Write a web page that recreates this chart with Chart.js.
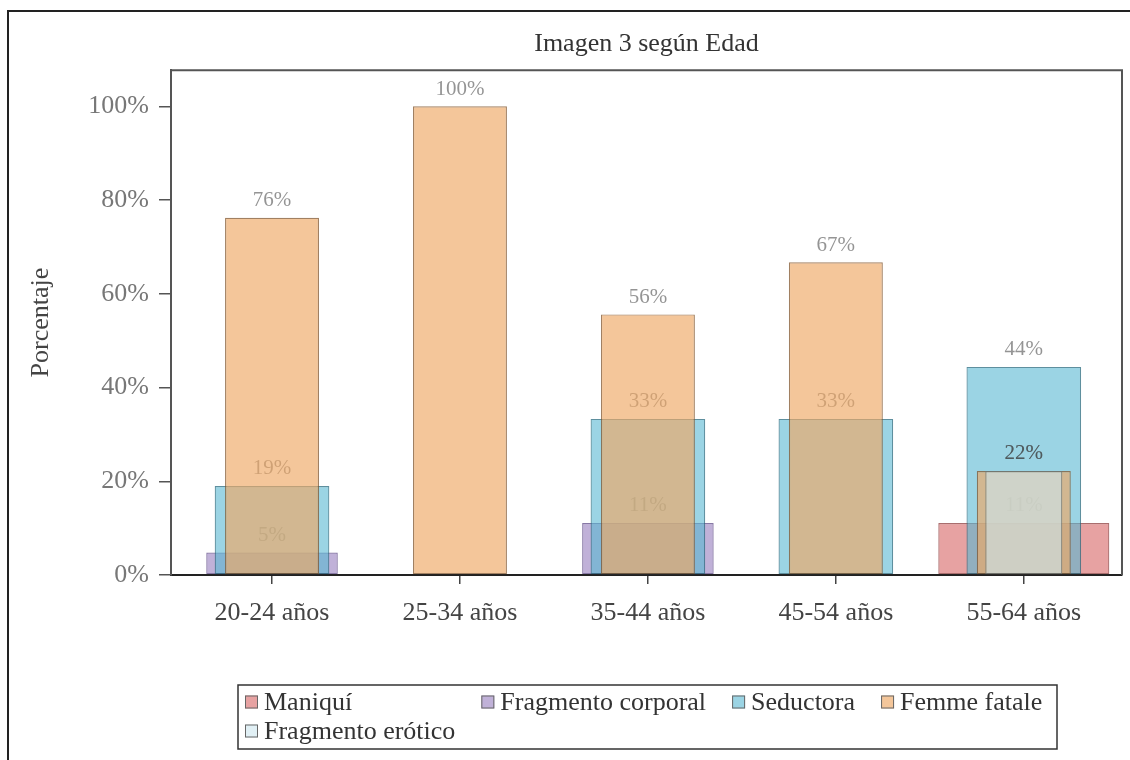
<!DOCTYPE html>
<html>
<head>
<meta charset="utf-8">
<script src="https://cdn.jsdelivr.net/npm/chart.js@4/dist/chart.umd.min.js"></script>
<style>
  html, body { margin: 0; padding: 0; background: #ffffff; }
  #wrap { position: relative; width: 1130px; height: 760px; }
</style>
</head>
<body>
<div id="wrap"><canvas id="c" width="1130" height="760"></canvas></div>
<script>
// ---- data ----
const categories = ['20-24 años', '25-34 años', '35-44 años', '45-54 años', '55-64 años'];
const seriesNames = ['Maniquí', 'Fragmento corporal', 'Seductora', 'Femme fatale', 'Fragmento erótico'];
const maniqui = [0, 0, 0, 0, 11.1];
const fragmentoCorporal = [4.8, 0, 11.1, 0, 0];
const seductora = [19.0, 0, 33.3, 33.3, 44.4];
const femmeFatale = [76.2, 100, 55.6, 66.7, 22.2];
const fragmentoErotico = [0, 0, 0, 0, 22.2];
const yTickValues = [0, 20, 40, 60, 80, 100];
const titleText = 'Imagen 3 según Edad';
const yTitleText = 'Porcentaje';

// ---- styles ----
const FONT = "'Liberation Serif', 'DejaVu Serif', serif";
const fills = ['rgba(215,100,100,0.6)', 'rgba(150,125,190,0.6)', 'rgba(88,184,210,0.6)', 'rgba(238,169,102,0.66)', 'rgba(205,230,238,0.6)'];
const borders = ['rgba(140,60,60,0.75)', 'rgba(95,75,135,0.75)', 'rgba(40,105,125,0.75)', 'rgba(130,85,45,0.75)', 'rgba(110,120,120,0.75)'];
const widths = [0.91, 0.70, 0.61, 0.50, 0.41];
const seriesValues = [maniqui, fragmentoCorporal, seductora, femmeFatale, fragmentoErotico];

const datasets = seriesNames.map((name, i) => ({
  label: name,
  data: seriesValues[i],
  backgroundColor: fills[i],
  borderColor: borders[i],
  borderWidth: 1.2,
  borderSkipped: false,
  grouped: false,
  categoryPercentage: 1,
  barPercentage: widths[i],
  order: seriesNames.length - 1 - i
}));

const labelPlugin = {
  id: 'barLabels',
  afterDatasetDraw(chart, args) {
    const ctx = chart.ctx;
    const ds = chart.data.datasets[args.index];
    ctx.save();
    ctx.font = '21px ' + FONT;
    ctx.fillStyle = 'rgba(60,60,60,0.55)';
    ctx.textAlign = 'center';
    ctx.textBaseline = 'middle';
    args.meta.data.forEach((el, j) => {
      const v = ds.data[j];
      if (v > 0) ctx.fillText(Math.round(v) + '%', el.x, el.y - 17);
    });
    ctx.restore();
  }
};

const framePlugin = {
  id: 'frames',
  afterDraw(chart) {
    const ctx = chart.ctx;
    const a = chart.chartArea;
    ctx.save();
    // plot frame (top and right)
    ctx.strokeStyle = '#555';
    ctx.lineWidth = 2;
    ctx.beginPath();
    ctx.moveTo(a.left, a.top);
    ctx.lineTo(a.right, a.top);
    ctx.lineTo(a.right, a.bottom);
    ctx.stroke();
    // outer frame
    ctx.strokeStyle = '#222';
    ctx.lineWidth = 2;
    ctx.beginPath();
    ctx.moveTo(8, 760);
    ctx.lineTo(8, 11);
    ctx.lineTo(1130, 11);
    ctx.stroke();

    // legend
    const bx = 238, by = 685, bw = 819, bh = 64;
    ctx.strokeStyle = '#333';
    ctx.lineWidth = 1.5;
    ctx.strokeRect(bx, by, bw, bh);
    ctx.font = '26px ' + FONT;
    ctx.textBaseline = 'middle';
    ctx.textAlign = 'left';
    const ds = chart.data.datasets;
    const rows = [[0, 1, 2, 3], [4]];
    const nCols = 4;
    const colW = [];
    for (let c = 0; c < nCols; c++) {
      let m = 0;
      rows.forEach(r => { if (r[c] !== undefined) m = Math.max(m, ctx.measureText(ds[r[c]].label).width); });
      colW.push(m);
    }
    const rowY = [702, 731];
    rows.forEach((r, ri) => {
      let x = 245;
      r.forEach((di, c) => {
        const y = rowY[ri];
        ctx.fillStyle = '#fff';
        ctx.fillRect(x, y - 6.5, 13, 13);
        ctx.fillStyle = ds[di].backgroundColor;
        ctx.fillRect(x, y - 6.5, 13, 13);
        ctx.strokeStyle = '#666';
        ctx.lineWidth = 1;
        ctx.strokeRect(x + 0.5, y - 6, 12, 12);
        ctx.fillStyle = '#333';
        ctx.fillText(ds[di].label, x + 19, y + 1);
        x += 19 + colW[c] + 26;
      });
    });
    ctx.restore();
  }
};

new Chart(document.getElementById('c'), {
  type: 'bar',
  data: { labels: categories, datasets },
  options: {
    responsive: false,
    animation: false,
    devicePixelRatio: 1,
    layout: { padding: { left: 0, right: 8, top: 0, bottom: 125 } },
    plugins: {
      legend: { display: false },
      tooltip: { enabled: false },
      title: {
        display: true,
        text: titleText,
        fullSize: false,
        color: '#333',
        font: { family: FONT, size: 26, weight: 'normal' },
        lineHeight: 1.15,
        padding: { top: 29, bottom: 10 }
      }
    },
    scales: {
      x: {
        type: 'category',
        offset: true,
        afterBuildTicks(s) { s._startValue = -0.5375; s._valueRange = 5.06; },
        afterFit(s) { s.height = 60; },
        grid: { offset: false, drawOnChartArea: false, drawTicks: true, tickLength: 9, color: '#444', lineWidth: 1.5 },
        border: { display: true, color: '#222', width: 2 },
        ticks: { color: '#444', padding: 14, font: { family: FONT, size: 26 } }
      },
      y: {
        min: 0,
        max: 107.7,
        afterFit(s) { s.width = 171; },
        afterBuildTicks(s) { s.ticks = yTickValues.map(v => ({ value: v })); },
        grid: { drawOnChartArea: false, drawTicks: true, tickLength: 12, color: '#555', lineWidth: 1.5 },
        border: { display: true, color: '#555', width: 2 },
        ticks: {
          color: '#777', padding: 10,
          font: { family: FONT, size: 26 },
          callback: (v) => v + '%'
        },
        title: {
          display: true, text: yTitleText, color: '#444',
          font: { family: FONT, size: 26 },
          padding: { top: 26, bottom: 0 }
        }
      }
    }
  },
  plugins: [labelPlugin, framePlugin]
});
</script>
</body>
</html>
